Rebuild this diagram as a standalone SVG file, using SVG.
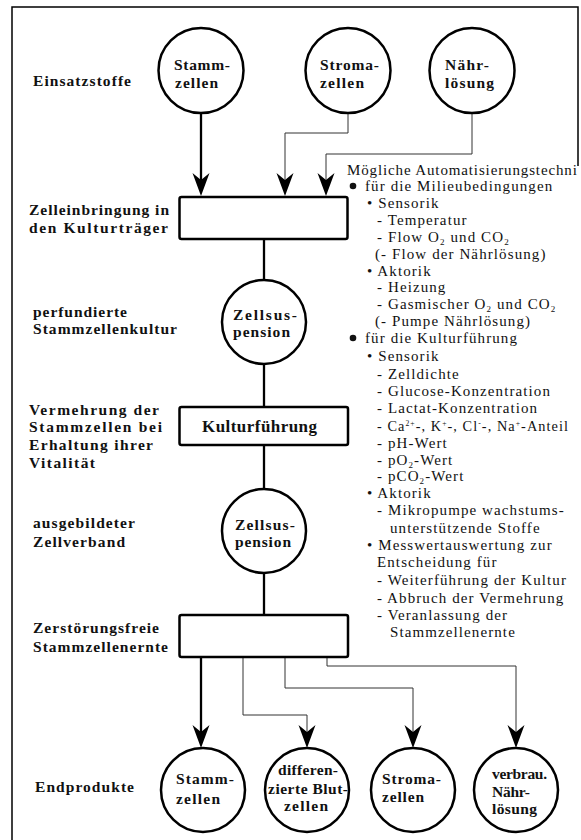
<svg xmlns="http://www.w3.org/2000/svg" width="581" height="840" viewBox="0 0 581 840">
<defs>
<style>
.frame{fill:none;stroke:#000;stroke-width:1.5}
.node{fill:#fff;stroke:#000;stroke-width:2.5}
.thick{fill:none;stroke:#000;stroke-width:2.3}
.thin{fill:none;stroke:#333;stroke-width:1}
.lbl{font-family:"Liberation Serif","Times New Roman",serif;font-weight:bold;font-size:15.5px;fill:#111}
.nt{font-family:"Liberation Serif","Times New Roman",serif;font-weight:bold;font-size:15.5px;fill:#111}
.bt{font-family:"Liberation Serif","Times New Roman",serif;font-weight:bold;font-size:17px;fill:#111}
.rt{font-family:"Liberation Serif","Times New Roman",serif;font-size:15px;letter-spacing:1.1px;fill:#111}
.sub{font-size:9px}
.sup{font-size:8px}
</style>
<marker id="ah" markerUnits="userSpaceOnUse" markerWidth="30" markerHeight="20" viewBox="-14 -10 26 20" refX="0" refY="0" orient="auto">
<path d="M10,0 L-13,-8.5 L-6,0 L-13,8.5 Z" fill="#000"/>
</marker>
</defs>
<rect width="581" height="840" fill="#fff"/>
<g id="frame">
<path class="frame" d="M12,840 L12,7 L578,7 L578,166"/>
</g>
<g id="connectors">
<path class="thick" d="M201,113 L201,186" marker-end="url(#ah)"/>
<path class="thin" d="M348,113 L348,133 L285,133 L285,186" marker-end="url(#ah)"/>
<path class="thin" d="M472,113 L472,154 L326,154 L326,186" marker-end="url(#ah)"/>
<path class="thick" d="M264,239 L264,280"/>
<path class="thick" d="M264,364 L264,407"/>
<path class="thick" d="M264,445 L264,489"/>
<path class="thick" d="M264,573 L264,615"/>
<path class="thick" d="M201,657 L201,738" marker-end="url(#ah)"/>
<path class="thin" d="M243,657 L243,715 L307,715 L307,738" marker-end="url(#ah)"/>
<path class="thin" d="M285,657 L285,688 L413,688 L413,738" marker-end="url(#ah)"/>
<path class="thin" d="M327,657 L327,666 L516,666 L516,738" marker-end="url(#ah)"/>
</g>
<g id="in-stamm">
<circle class="node" cx="201" cy="70.5" r="42.5"/>
<text class="nt" x="174" y="70" textLength="56" lengthAdjust="spacing">Stamm-</text>
<text class="nt" x="175" y="88" textLength="43" lengthAdjust="spacing">zellen</text>
</g>
<g id="in-stroma">
<circle class="node" cx="348" cy="70.5" r="42.5"/>
<text class="nt" x="320" y="70" textLength="59" lengthAdjust="spacing">Stroma-</text>
<text class="nt" x="320" y="88" textLength="44" lengthAdjust="spacing">zellen</text>
</g>
<g id="in-naehr">
<circle class="node" cx="472" cy="70.5" r="42.5"/>
<text class="nt" x="445" y="70" textLength="44" lengthAdjust="spacing">Nähr-</text>
<text class="nt" x="445" y="88" textLength="49" lengthAdjust="spacing">lösung</text>
</g>
<g id="box-einbringung">
<rect class="node" x="179.5" y="197" width="168" height="42" rx="2"/>
</g>
<g id="zellsus-1">
<circle class="node" cx="264" cy="322" r="42"/>
<text class="nt" x="233" y="320" textLength="64" lengthAdjust="spacing">Zellsus-</text>
<text class="nt" x="233" y="337" textLength="57" lengthAdjust="spacing">pension</text>
</g>
<g id="box-kultur">
<rect class="node" x="179.5" y="407" width="168.5" height="38" rx="2"/>
<text class="bt" x="202" y="432" textLength="115" lengthAdjust="spacing">Kulturführung</text>
</g>
<g id="zellsus-2">
<circle class="node" cx="264" cy="531" r="42"/>
<text class="nt" x="235" y="530" textLength="60" lengthAdjust="spacing">Zellsus-</text>
<text class="nt" x="235" y="547" textLength="56" lengthAdjust="spacing">pension</text>
</g>
<g id="box-ernte">
<rect class="node" x="179.5" y="615" width="168.5" height="42" rx="2"/>
</g>
<g id="out-stamm">
<circle class="node" cx="203" cy="790" r="42"/>
<text class="nt" x="176" y="784" textLength="58" lengthAdjust="spacing">Stamm-</text>
<text class="nt" x="176" y="804" textLength="44" lengthAdjust="spacing">zellen</text>
</g>
<g id="out-blut">
<circle class="node" cx="307" cy="790" r="42"/>
<text class="nt" x="278" y="775" textLength="60" lengthAdjust="spacing">differen-</text>
<text class="nt" x="268" y="794" textLength="80" lengthAdjust="spacing">zierte Blut-</text>
<text class="nt" x="284" y="811" textLength="44" lengthAdjust="spacing">zellen</text>
</g>
<g id="out-stroma">
<circle class="node" cx="413" cy="790" r="42"/>
<text class="nt" x="382" y="784" textLength="59" lengthAdjust="spacing">Stroma-</text>
<text class="nt" x="382" y="802" textLength="42" lengthAdjust="spacing">zellen</text>
</g>
<g id="out-naehr">
<circle class="node" cx="516" cy="790" r="42"/>
<text class="nt" x="492" y="779" textLength="55" lengthAdjust="spacing">verbrau.</text>
<text class="nt" x="492" y="797" textLength="38" lengthAdjust="spacing">Nähr-</text>
<text class="nt" x="492" y="814" textLength="45" lengthAdjust="spacing">lösung</text>
</g>
<g id="labels">
<text class="lbl" x="33" y="86" textLength="98" lengthAdjust="spacing">Einsatzstoffe</text>
<text class="lbl" x="29" y="215" textLength="140" lengthAdjust="spacing">Zelleinbringung in</text>
<text class="lbl" x="29" y="233" textLength="139" lengthAdjust="spacing">den Kulturträger</text>
<text class="lbl" x="33" y="317" textLength="94" lengthAdjust="spacing">perfundierte</text>
<text class="lbl" x="33" y="334" textLength="144" lengthAdjust="spacing">Stammzellenkultur</text>
<text class="lbl" x="29" y="415" textLength="130" lengthAdjust="spacing">Vermehrung der</text>
<text class="lbl" x="29" y="432" textLength="133" lengthAdjust="spacing">Stammzellen bei</text>
<text class="lbl" x="29" y="450" textLength="124" lengthAdjust="spacing">Erhaltung ihrer</text>
<text class="lbl" x="29" y="468" textLength="66" lengthAdjust="spacing">Vitalität</text>
<text class="lbl" x="33" y="528" textLength="102" lengthAdjust="spacing">ausgebildeter</text>
<text class="lbl" x="33" y="547" textLength="92" lengthAdjust="spacing">Zellverband</text>
<text class="lbl" x="33" y="633" textLength="126" lengthAdjust="spacing">Zerstörungsfreie</text>
<text class="lbl" x="33" y="652" textLength="135" lengthAdjust="spacing">Stammzellenernte</text>
<text class="lbl" x="35" y="792" textLength="99" lengthAdjust="spacing">Endprodukte</text>
</g>
<g id="automation-notes">
<text class="rt" x="347" y="175" textLength="231" lengthAdjust="spacing">Mögliche Automatisierungstechni</text>
<circle cx="353" cy="186" r="3.3" fill="#111"/>
<text class="rt" x="365" y="191">für die Milieubedingungen</text>
<text class="rt" x="367" y="208">• Sensorik</text>
<text class="rt" x="377" y="225">- Temperatur</text>
<text class="rt" x="377" y="241.5">- Flow O<tspan class="sub" dy="3">2</tspan><tspan dy="-3"> und CO</tspan><tspan class="sub" dy="3">2</tspan></text>
<text class="rt" x="375" y="258.5">(- Flow der Nährlösung)</text>
<text class="rt" x="367" y="275.5">• Aktorik</text>
<text class="rt" x="377" y="292">- Heizung</text>
<text class="rt" x="377" y="309">- Gasmischer O<tspan class="sub" dy="3">2</tspan><tspan dy="-3"> und CO</tspan><tspan class="sub" dy="3">2</tspan></text>
<text class="rt" x="375" y="326">(- Pumpe Nährlösung)</text>
<circle cx="353" cy="338" r="3.3" fill="#111"/>
<text class="rt" x="365" y="343">für die Kulturführung</text>
<text class="rt" x="367" y="361">• Sensorik</text>
<text class="rt" x="377" y="378.5">- Zelldichte</text>
<text class="rt" x="377" y="396">- Glucose-Konzentration</text>
<text class="rt" x="377" y="413">- Lactat-Konzentration</text>
<text class="rt" x="377" y="430.5" textLength="192" lengthAdjust="spacingAndGlyphs">- Ca<tspan class="sup" dy="-5">2+</tspan><tspan dy="5">-, K</tspan><tspan class="sup" dy="-5">+</tspan><tspan dy="5">-, Cl</tspan><tspan class="sup" dy="-5">-</tspan><tspan dy="5">-, Na</tspan><tspan class="sup" dy="-5">+</tspan><tspan dy="5">-Anteil</tspan></text>
<text class="rt" x="377" y="448">- pH-Wert</text>
<text class="rt" x="377" y="464.5">- pO<tspan class="sub" dy="3">2</tspan><tspan dy="-3">-Wert</tspan></text>
<text class="rt" x="377" y="481">- pCO<tspan class="sub" dy="3">2</tspan><tspan dy="-3">-Wert</tspan></text>
<text class="rt" x="367" y="498">• Aktorik</text>
<text class="rt" x="377" y="515">- Mikropumpe wachstums-</text>
<text class="rt" x="390" y="532.5">unterstützende Stoffe</text>
<text class="rt" x="367" y="550">• Messwertauswertung zur</text>
<text class="rt" x="377" y="567">Entscheidung für</text>
<text class="rt" x="377" y="585">- Weiterführung der Kultur</text>
<text class="rt" x="377" y="602.5">- Abbruch der Vermehrung</text>
<text class="rt" x="377" y="619.5">- Veranlassung der</text>
<text class="rt" x="390" y="637">Stammzellenernte</text>
</g>
</svg>
